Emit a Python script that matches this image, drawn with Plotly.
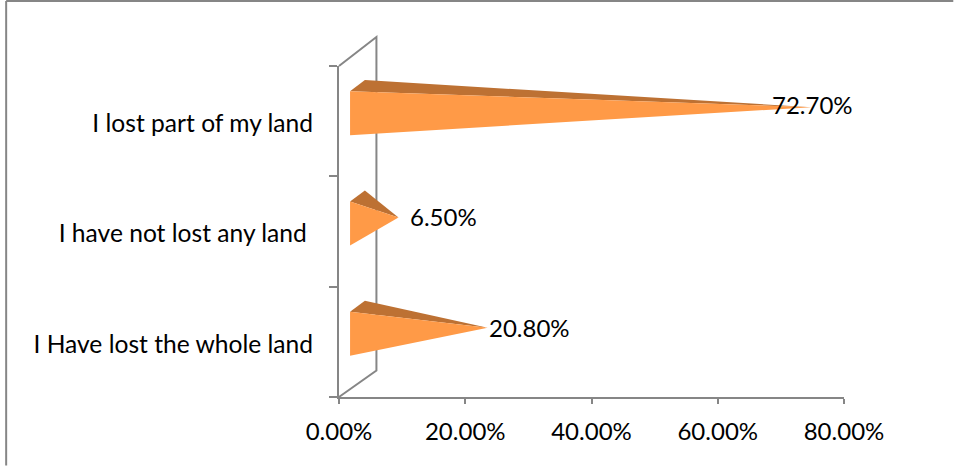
import plotly.graph_objects as go

categories = ["I Have lost the whole land", "I have not lost any land\u00a0", "I lost part of my land"]
values = [20.8, 6.5, 72.7]
x_ticks = [0, 20, 40, 60, 80]

FRONT = "#FF9A47"
TOP = "#BD7133"
AXIS = "#868686"
FONT = dict(family="Lato, Carlito, sans-serif", size=24, color="#000000")
CAT_FONT = dict(family="Lato, Carlito, sans-serif", size=24.6, color="#000000")

W, H = 954, 466
L, R, T, B = 338.5, 844.5, 66, 397.5

fig = go.Figure()

base_front = 1.75
base_back = 4.1
scale = 0.988
shift = 3.0
for i, v in enumerate(values):
    apex = shift + scale * v
    fig.add_trace(go.Scatter(
        x=[base_front, base_back, apex, base_front],
        y=[i + 0.5 + 0.272, i + 0.5 + 0.372, i + 0.5 + 0.127, i + 0.5 + 0.272],
        mode="lines", fill="toself", fillcolor=TOP, line=dict(width=0),
        cliponaxis=False, hoverinfo="skip", showlegend=False))
    fig.add_trace(go.Scatter(
        x=[base_front, apex, base_front, base_front],
        y=[i + 0.5 + 0.272, i + 0.5 + 0.127, i + 0.5 - 0.127, i + 0.5 + 0.272],
        mode="lines", fill="toself", fillcolor=FRONT, line=dict(width=0),
        cliponaxis=False, hoverinfo="skip", showlegend=False))

label_x = [23.7, 11.2, 68.55]
label_dy = [0.127, 0.132, 0.155]
for i, v in enumerate(values):
    fig.add_annotation(x=label_x[i], y=i + 0.5 + label_dy[i], text=f"{v:.2f}%", showarrow=False,
                       xanchor="left", yanchor="middle", font=FONT, borderpad=0, borderwidth=0)

# back wall of the oblique 3D plot, in paper coordinates so it can rise above the plot area
wx = 37.5 / (R - L)
wy_top = (B - 37) / (B - T)
wy_bot = (B - 371) / (B - T)
fig.add_shape(type="path", xref="paper", yref="paper",
              path=f"M 0 1 L {wx} {wy_top} L {wx} {wy_bot} L 0 0",
              line=dict(color=AXIS, width=2), layer="below")

x0 = (5 - L) / (R - L)
x1 = (W - L) / (R - L)
y_top = (B - 1) / (B - T)
y_bot = (B - H) / (B - T)
fig.add_shape(type="line", xref="paper", yref="paper", x0=x0, x1=x0, y0=y_bot, y1=y_top,
              line=dict(color=AXIS, width=2), layer="below")
fig.add_shape(type="line", xref="paper", yref="paper", x0=x0, x1=x1, y0=y_top, y1=y_top,
              line=dict(color=AXIS, width=2), layer="below")

fig.update_layout(
    width=W, height=H, autosize=False,
    margin=dict(l=L, r=W - R, t=T, b=H - B, pad=0),
    paper_bgcolor="#FFFFFF", plot_bgcolor="rgba(0,0,0,0)", showlegend=False, font=FONT,
    xaxis=dict(range=[0, 80], tickvals=x_ticks, ticktext=[f"{t:.2f}%" for t in x_ticks],
               ticks="outside", ticklen=5, tickwidth=2, tickcolor=AXIS, showgrid=False,
               zeroline=False, showline=True, linecolor=AXIS, linewidth=2, tickfont=FONT,
               ticklabelstandoff=7),
    yaxis=dict(range=[0, 3], tickvals=[0.48, 1.48, 2.48], ticktext=categories,
               ticks="outside", ticklen=19, tickcolor="rgba(0,0,0,0)", showgrid=False,
               zeroline=False, showline=True, linecolor=AXIS, linewidth=2, tickfont=CAT_FONT,
               minor=dict(tickvals=[0, 1, 2, 3], ticks="outside", ticklen=8, tickwidth=2,
                          tickcolor=AXIS, showgrid=False)),
)

fig.write_html("out.html", config=dict(displayModeBar=False),
               post_script="document.body.style.margin='0';")
